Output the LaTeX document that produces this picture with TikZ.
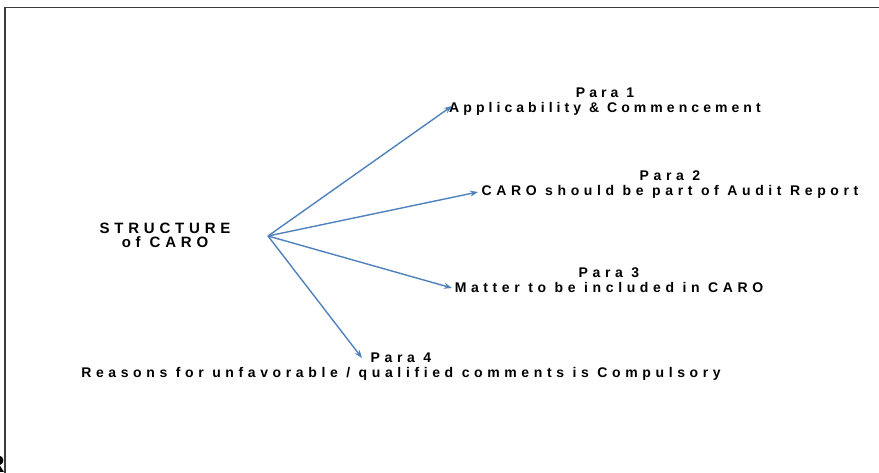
\documentclass[tikz,border=0pt]{standalone}
\usepackage{fontspec}
\setmainfont{Liberation Sans}
\newfontfamily\spaced[LetterSpace=33]{Liberation Sans}
\newfontfamily\spacedB[LetterSpace=29]{Liberation Sans}
\newfontfamily\spacedT[LetterSpace=32]{Liberation Sans}
\usetikzlibrary{arrows.meta}
\definecolor{arrowblue}{RGB}{79,129,189}
\definecolor{framegray}{RGB}{60,60,60}
\tikzset{
  lbl/.style={align=center, inner sep=0pt, font=\spaced\bfseries\fontsize{14}{15.5}\selectfont},
  lblB/.style={align=center, inner sep=0pt, font=\spacedB\bfseries\fontsize{14}{15.5}\selectfont},
  title/.style={align=center, inner sep=0pt, font=\spacedT\bfseries\fontsize{15}{14.5}\selectfont},
  link/.style={draw=arrowblue, line width=1.4pt, -{Stealth[length=8pt,width=6pt]}},
  frameline/.style={draw=framegray, line width=1.4pt}
}
\begin{document}
\begin{tikzpicture}[x=1pt,y=-1pt]
\useasboundingbox (0,0) rectangle (879,473);
\coordinate (fa) at (5,473);
\coordinate (fb) at (5,7.5);
\coordinate (fc) at (879,7.5);
\draw[frameline] (fa) -- (fb) -- (fc);
\begin{scope}
\clip (0,0) rectangle (879,473);
\node[font=\bfseries\fontsize{24}{24}\selectfont, anchor=east, inner sep=0pt] (rr) at (5,464) {R};
\end{scope}
\node[title] (st) at (165,235.5) {STRUCTURE\\of CARO};
\coordinate (hub) at (268,236);
\node[lblB] (p1) at (605,101.5) {Para 1\\Applicability \& Commencement};
\node[lbl] (p2) at (670,184.5) {Para 2\\CARO should be part of Audit Report};
\node[lbl] (p3) at (609,280) {Para 3\\Matter to be included in CARO};
\node[lbl] (p4) at (401,366.5) {Para 4\\Reasons for unfavorable / qualified comments is Compulsory};
\coordinate (e1) at (452,106);
\coordinate (e2) at (478,192);
\coordinate (e3) at (452,288);
\coordinate (e4) at (362,358);
\draw[link] (hub) -- (e1);
\draw[link] (hub) -- (e2);
\draw[link] (hub) -- (e3);
\draw[link] (hub) -- (e4);
\end{tikzpicture}
\end{document}
